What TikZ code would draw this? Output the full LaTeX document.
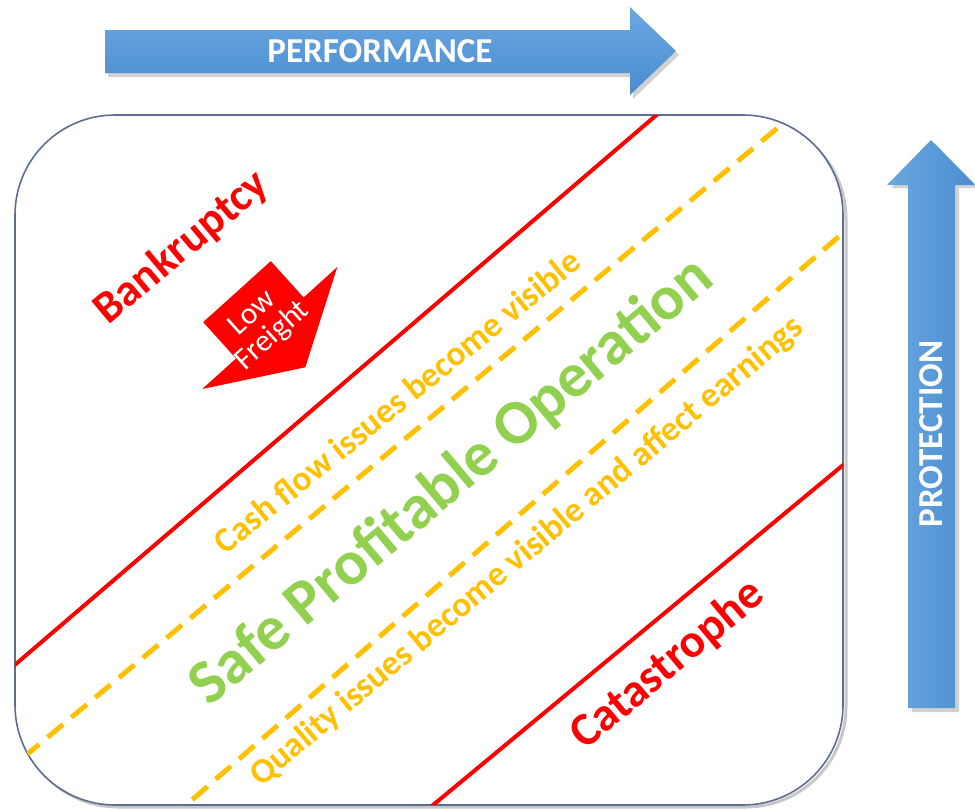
\documentclass[tikz,border=0pt]{standalone}
\usepackage{fontspec}
\setmainfont{Carlito}
\usetikzlibrary{calc}
\definecolor{rred}{HTML}{FF0000}
\definecolor{ryel}{HTML}{FFC000}
\definecolor{rgreen}{HTML}{92D050}
\definecolor{bluetop}{HTML}{6AA8E0}
\definecolor{bluebot}{HTML}{4A8CD0}
\definecolor{framec}{HTML}{5E6E8E}
\begin{document}
\begin{tikzpicture}[x=1pt,y=-1pt,
  redline/.style={draw=rred,line width=4pt},
  yelline/.style={draw=ryel,line width=5pt,dash pattern=on 20pt off 11pt},
  difftext/.style={inner sep=0pt,font=\bfseries\fontsize{#1}{#1}\selectfont},
  arrowshadow/.style={fill=black,opacity=0.18},
]
\useasboundingbox (0,0) rectangle (975,809);

% frame shadow and frame
\draw[line width=3pt,black,opacity=0.22,rounded corners=100pt] (18,119) rectangle (846,807);
\draw[line width=1.6pt,draw=framec,fill=white,rounded corners=100pt] (15,115) rectangle (843,805);

% boundary lines, clipped to the frame
\coordinate (r1a) at (0,677.6);   \coordinate (r1b) at (674,100);
\coordinate (y1a) at (0,777);     \coordinate (y1b) at (811,100);
\coordinate (y2a) at (169,820);   \coordinate (y2b) at (860,218);
\coordinate (r2a) at (415,820);   \coordinate (r2b) at (860,451);
\begin{scope}
  \clip[rounded corners=100pt] (15,115) rectangle (843,805);
  \draw[redline] (r1a) -- (r1b);
  \draw[yelline] (y1a) -- (y1b);
  \draw[yelline] (y2a) -- (y2b);
  \draw[redline] (r2a) -- (r2b);
\end{scope}

% PERFORMANCE arrow
\fill[arrowshadow] (108,34) -- (633,34) -- (633,11) -- (679,55) -- (633,99) -- (633,77) -- (108,77) -- cycle;
\shade[top color=bluetop,bottom color=bluebot] (105,30) -- (630,30) -- (630,7) -- (676,51) -- (630,95) -- (630,73) -- (105,73) -- cycle;
\node[difftext=35,text=white] (perf) at (380,51) {PERFORMANCE};

% PROTECTION arrow
\fill[arrowshadow] (912,188) -- (891,188) -- (935,144) -- (979,188) -- (959,188) -- (959,712) -- (912,712) -- cycle;
\shade[left color=bluetop,right color=bluebot] (908,185) -- (887,185) -- (931,140) -- (975,185) -- (955,185) -- (955,708) -- (908,708) -- cycle;
\node[difftext=35,text=white,rotate=90] (prot) at (931,434) {PROTECTION};

% Low Freight arrow
\fill[rred] (203.2,322.1) -- (270.8,261.1) -- (303.6,297.5) -- (337.3,267.0) -- (305.3,367.3) -- (202.3,389.0) -- (236.0,358.5) -- cycle;
\node[inner sep=0pt,text=white,rotate=42,align=center,font=\fontsize{31}{30}\selectfont] (lowf) at (263,325) {Low\\Freight};

% labels
\node[difftext=45,text=rred,rotate=40] (bank) at (182,248) {Bankruptcy};
\node[difftext=35,text=ryel,rotate=39] (cash) at (397,401) {Cash flow issues become visible};
\node[difftext=63,text=rgreen,rotate=40] (safe) at (452,482) {Safe Profitable Operation};
\node[difftext=35,text=ryel,rotate=40] (qual) at (527,552) {Quality issues become visible and affect earnings};
\node[difftext=47,text=rred,rotate=40] (cat) at (668,665) {Catastrophe};
\end{tikzpicture}
\end{document}
